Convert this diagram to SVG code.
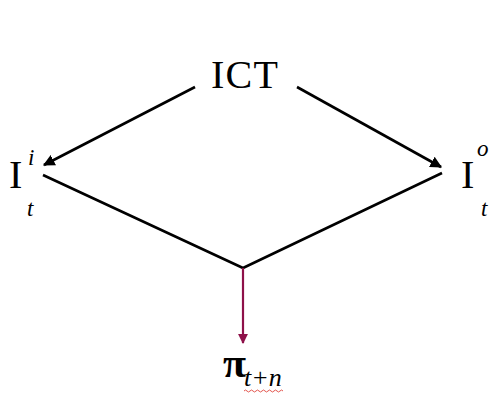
<svg xmlns="http://www.w3.org/2000/svg" width="489" height="394" viewBox="0 0 489 394">
  <style>
    .lbl { font-family: "Liberation Serif", "Times New Roman", serif; fill: #000; }
    .big { font-size: 40px; }
    .sub { font-size: 23px; font-style: italic; }
    .edge { stroke: #000; stroke-width: 2.6; fill: none; }
    .edge-red { stroke: #8e1149; stroke-width: 2.2; fill: none; }
  </style>
  <defs>
    <marker id="ah" viewBox="0 0 10 10" refX="9" refY="5" markerWidth="4.5" markerHeight="4.5" orient="auto" markerUnits="strokeWidth">
      <path d="M0,0 L10,5 L0,10 z" fill="#000"/>
    </marker>
    <marker id="ah-red" viewBox="0 0 10 10" refX="9" refY="5" markerWidth="4.5" markerHeight="4.5" orient="auto" markerUnits="strokeWidth">
      <path d="M0,0 L10,5 L0,10 z" fill="#8e1149"/>
    </marker>
  </defs>

  <g id="connectors">
    <line class="edge" x1="195" y1="87" x2="44" y2="165" marker-end="url(#ah)"/>
    <line class="edge" x1="297" y1="87" x2="441" y2="167" marker-end="url(#ah)"/>
    <polyline class="edge" points="43,175 243,268 442,173"/>
    <line class="edge-red" x1="243" y1="268" x2="243" y2="343" marker-end="url(#ah-red)"/>
  </g>

  <g id="ict">
    <text class="lbl big" x="211" y="88" textLength="67">ICT</text>
  </g>

  <g id="input">
    <text class="lbl big" x="9" y="188">I</text>
    <text class="lbl sub" x="28" y="165">i</text>
    <text class="lbl sub" x="27" y="216">t</text>
  </g>

  <g id="output">
    <text class="lbl big" x="461" y="188">I</text>
    <text class="lbl sub" x="477" y="156">o</text>
    <text class="lbl sub" x="481" y="216">t</text>
  </g>

  <g id="profit">
    <text class="lbl" style="font-size:42px;font-weight:bold" x="223" y="377">π</text>
    <text class="lbl sub" style="font-size:26px" x="244" y="386">t+n</text>
    <path d="M244,391 q1.5,-2 3,0 t3,0 t3,0 t3,0 t3,0 t3,0 t3,0 t3,0 t3,0 t3,0 t3,0 t3,0 t3,0" stroke="#e0443c" stroke-width="0.9" fill="none"/>
  </g>
</svg>
